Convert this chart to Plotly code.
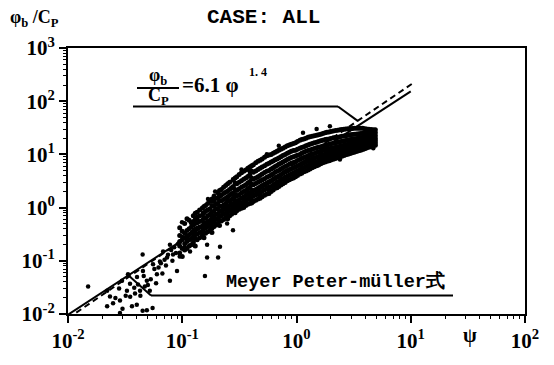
import plotly.graph_objects as go

# ---- data ----
band_psi = [0.095, 0.105, 0.115, 0.125, 0.135, 0.15, 0.16, 0.175, 0.19, 0.205,
            0.22, 0.24, 0.26, 0.28, 0.30, 0.33, 0.36, 0.39, 0.42, 0.46,
            0.50, 0.55, 0.60, 0.65, 0.70, 0.76, 0.83, 0.90, 0.98, 1.07,
            1.16, 1.26, 1.37, 1.5, 1.63, 1.78, 1.93, 2.1, 2.3, 2.5,
            2.7, 2.95, 3.2, 3.5, 3.8, 4.1, 4.5, 4.9]
band_phi = [
    [0.14, 0.19, 0.23, 0.30, 0.42],
    [0.16, 0.21, 0.27, 0.33, 0.50],
    [0.19, 0.25, 0.31, 0.40, 0.58],
    [0.22, 0.28, 0.36, 0.47, 0.55, 0.70],
    [0.25, 0.32, 0.41, 0.52, 0.66, 0.82],
    [0.30, 0.36, 0.45, 0.58, 0.72, 0.98],
    [0.33, 0.42, 0.52, 0.64, 0.85, 1.1],
    [0.38, 0.47, 0.58, 0.75, 0.95, 1.3],
    [0.44, 0.55, 0.66, 0.85, 1.05, 1.3, 1.65],
    [0.50, 0.62, 0.75, 0.95, 1.2, 1.5, 1.9],
    [0.56, 0.70, 0.86, 1.05, 1.35, 1.7, 2.2],
    [0.64, 0.78, 0.98, 1.2, 1.5, 1.95, 2.6],
    [0.70, 0.88, 1.1, 1.35, 1.7, 2.2, 3.0],
    [0.80, 0.98, 1.2, 1.5, 1.9, 2.5, 3.3],
    [0.87, 1.05, 1.3, 1.65, 2.1, 2.8, 3.8],
    [0.97, 1.2, 1.5, 1.9, 2.4, 3.2, 4.5],
    [1.1, 1.35, 1.7, 2.1, 2.7, 3.6, 5.1],
    [1.2, 1.5, 1.9, 2.4, 3.1, 4.1, 5.8],
    [1.3, 1.65, 2.1, 2.7, 3.4, 4.6, 6.4],
    [1.45, 1.8, 2.3, 3.0, 3.8, 5.2, 7.4],
    [1.6, 2.0, 2.6, 3.3, 4.3, 5.8, 8.2],
    [1.8, 2.3, 2.9, 3.7, 4.8, 6.5, 9.4],
    [2.0, 2.5, 3.2, 4.1, 5.3, 7.2, 10],
    [2.3, 2.8, 3.6, 4.6, 5.9, 7.9, 11],
    [2.5, 3.1, 3.9, 5.0, 6.5, 8.6, 12],
    [2.8, 3.5, 4.4, 5.6, 7.2, 9.5, 13],
    [3.2, 3.9, 4.9, 6.2, 8.0, 10.5, 14.5],
    [3.5, 4.3, 5.4, 6.8, 8.7, 11.5, 15.5],
    [3.8, 4.7, 5.8, 7.3, 9.3, 12, 16.5],
    [4.3, 5.2, 6.4, 8.0, 10, 13, 18.5],
    [4.7, 5.7, 7.0, 8.7, 11, 14, 19.5],
    [5.1, 6.2, 7.6, 9.4, 11.8, 15, 21],
    [5.6, 6.8, 8.2, 10, 12.5, 16, 22],
    [6.1, 7.3, 8.8, 10.8, 13.3, 17, 23],
    [6.7, 7.9, 9.5, 11.5, 14, 18, 24],
    [7.2, 8.5, 10.1, 12.2, 14.8, 19, 25.5],
    [7.6, 9.0, 10.7, 12.8, 15.5, 19.5, 26.5],
    [8.1, 9.5, 11.2, 13.4, 16.2, 20.5, 27.5],
    [8.7, 10.1, 11.8, 14, 17, 21, 28.5],
    [9.2, 10.6, 12.4, 14.6, 17.6, 22, 29.5],
    [9.8, 11.2, 13, 15.2, 18.2, 22.5, 30],
    [10.4, 11.9, 13.7, 16, 19, 23.5, 30.5],
    [11, 12.5, 14.3, 16.6, 19.6, 24, 31],
    [11.7, 13.2, 15, 17.3, 20.3, 24.5, 31],
    [12.4, 13.9, 15.7, 18, 21, 25, 31],
    [13.2, 14.7, 16.5, 18.7, 21.5, 25, 30],
    [14, 15.5, 17.2, 19.3, 22, 25.5, 29.5],
    [14.8, 16.3, 18, 20, 22.5, 25.5, 29],
]

band2_psi = [0.1, 0.11, 0.12, 0.13, 0.142, 0.155, 0.167, 0.182, 0.197, 0.212,
             0.23, 0.25, 0.27, 0.29, 0.315, 0.345, 0.375, 0.405, 0.44, 0.48,
             0.525, 0.575, 0.625, 0.675, 0.73, 0.795, 0.865, 0.94, 1.02, 1.11,
             1.21, 1.31, 1.43, 1.56, 1.7, 1.85, 2.0, 2.2, 2.4, 2.6,
             2.82, 3.07, 3.35, 3.65, 3.95, 4.3, 4.7]
band2_phi = [
    [0.12, 0.17, 0.25, 0.36],
    [0.17, 0.23, 0.29, 0.37, 0.62],
    [0.2, 0.26, 0.33, 0.43, 0.52],
    [0.19, 0.26, 0.31, 0.39, 0.5, 0.6, 0.78],
    [0.27, 0.34, 0.43, 0.55, 0.7, 0.9],
    [0.27, 0.33, 0.4, 0.51, 0.64, 0.8, 1.05],
    [0.35, 0.44, 0.55, 0.7, 0.9, 1.2],
    [0.34, 0.41, 0.52, 0.66, 0.84, 1.1, 1.45],
    [0.47, 0.6, 0.75, 0.95, 1.17, 1.5],
    [0.46, 0.57, 0.68, 0.85, 1.07, 1.35, 1.7, 2.1],
    [0.6, 0.75, 0.92, 1.12, 1.42, 1.85, 2.4],
    [0.62, 0.72, 0.84, 1.04, 1.3, 1.6, 2.05, 2.8],
    [0.75, 0.93, 1.15, 1.42, 1.8, 2.35],
    [0.8, 0.92, 1.1, 1.38, 1.75, 2.2, 2.9, 3.6],
    [0.93, 1.12, 1.4, 1.75, 2.25, 3.0, 4.2],
    [1.0, 1.12, 1.3, 1.6, 2.0, 2.55, 3.4, 4.8],
    [1.15, 1.42, 1.8, 2.25, 2.9, 3.85, 5.5],
    [1.22, 1.4, 1.7, 2.15, 2.75, 3.6, 4.9, 6.1],
    [1.38, 1.72, 2.2, 2.85, 3.6, 4.9, 7.0],
    [1.5, 1.7, 1.95, 2.45, 3.15, 4.0, 5.5, 7.8],
    [1.7, 2.15, 2.75, 3.5, 4.55, 6.1, 8.8],
    [1.85, 2.15, 2.4, 3.05, 3.9, 5.0, 6.8, 9.7],
    [2.15, 2.65, 3.4, 4.35, 5.6, 7.5, 10.5],
    [2.35, 2.7, 3.0, 3.75, 4.8, 6.2, 8.2, 11.5],
    [2.65, 3.3, 4.15, 5.3, 6.8, 9.0, 12.5],
    [2.95, 3.4, 3.7, 4.65, 5.9, 7.6, 10, 13.8],
    [3.35, 4.1, 5.15, 6.5, 8.35, 11, 15],
    [3.6, 4.1, 4.5, 5.6, 7.05, 9.0, 11.8, 16],
    [4.0, 4.95, 6.1, 7.65, 9.65, 12.5, 17.5],
    [4.4, 5.0, 5.45, 6.7, 8.35, 10.5, 13.5, 19],
    [4.9, 5.95, 7.3, 9.05, 11.4, 14.5, 20.2],
    [5.3, 5.9, 6.5, 7.9, 9.7, 12.1, 15.5, 21.5],
    [5.85, 7.05, 8.5, 10.4, 12.9, 16.5, 22.5],
    [6.3, 7.0, 7.6, 9.15, 11.1, 13.6, 17.5, 23.5],
    [6.95, 8.2, 9.8, 11.85, 14.4, 18.5, 24.8],
    [7.4, 8.2, 8.75, 10.4, 12.5, 15.1, 19.2, 26],
    [7.85, 9.25, 10.95, 13.1, 15.85, 20, 27],
    [8.4, 9.2, 9.8, 11.5, 13.7, 16.6, 20.7, 28],
    [8.95, 10.35, 12.1, 14.3, 17.3, 21.5, 29],
    [9.5, 10.2, 10.9, 12.7, 14.9, 17.9, 22.2, 29.7],
    [10.1, 11.55, 13.35, 15.6, 18.6, 23, 30.2],
    [10.7, 11.5, 12.2, 14, 16.3, 19.3, 23.7, 30.7],
    [11.35, 12.85, 14.65, 16.95, 19.95, 24.2, 31],
    [12.0, 12.8, 13.55, 15.35, 17.65, 20.65, 24.7, 31],
    [12.8, 14.3, 16.1, 18.35, 21.25, 25, 30.5],
    [13.6, 14.3, 15.1, 16.85, 19, 21.75, 25.2, 29.7],
    [14.4, 15.9, 17.6, 19.65, 22.25, 25.5, 29.2],
]

sparse_psi = [0.015, 0.022, 0.0233, 0.0248, 0.0285, 0.0328, 0.0349, 0.0402, 0.0427,
              0.0453, 0.049, 0.052, 0.0555, 0.060, 0.0638, 0.068, 0.0736, 0.078,
              0.083, 0.090, 0.0955, 0.110, 0.117, 0.124, 0.135, 0.152, 0.168,
              0.186, 0.214, 0.045, 0.022, 0.0285, 0.0363, 0.049, 0.047, 0.0386,
              0.0335, 0.0297, 0.0995, 0.165, 0.214, 0.206, 0.158, 0.078, 0.278,
              0.165, 0.0135, 0.0166, 0.019, 0.0224, 0.0248, 0.0328, 0.012,
              0.035, 0.038, 0.041, 0.043, 0.046, 0.05, 0.053, 0.057, 0.059, 0.062,
              0.065, 0.067, 0.07, 0.072, 0.075, 0.08, 0.082, 0.085, 0.088, 0.092,
              0.095, 0.1, 0.105, 0.03, 0.026, 0.04, 0.055, 0.045, 0.032, 0.028,
              0.278, 0.55, 1.14, 1.96, 0.39, 0.194, 0.7, 1.5, 0.33, 0.247, 4.7, 2.4]
sparse_phi = [0.033, 0.0275, 0.0214, 0.0159, 0.018, 0.0275, 0.037, 0.0497, 0.0275,
              0.064, 0.042, 0.0275, 0.086, 0.056, 0.0975, 0.149, 0.115, 0.20,
              0.131, 0.064, 0.226, 0.268, 0.149, 0.345, 0.62, 0.80, 1.45,
              0.71, 1.64, 0.131, 0.014, 0.0104, 0.014, 0.0118, 0.033, 0.0243,
              0.056, 0.042, 0.53, 0.20, 0.184, 0.115, 0.052, 0.042, 0.376,
              0.115, 0.0063, 0.0078, 0.006, 0.0055, 0.004, 0.0055, 0.0032,
              0.021, 0.031, 0.036, 0.022, 0.052, 0.035, 0.045, 0.07, 0.038, 0.075,
              0.09, 0.058, 0.105, 0.082, 0.13, 0.16, 0.1, 0.18, 0.14, 0.21,
              0.12, 0.28, 0.18, 0.0125, 0.02, 0.015, 0.013, 0.0115, 0.022, 0.03,
              3.4, 10.1, 25.5, 34, 4.7, 2.0, 14.5, 30, 5.2, 0.5, 13.0, 8.0]

line_psi = [0.01, 10.0]
fit_phi = [0.0097, 153.0]          # phi_b/Cp = 6.1 psi^1.4
mpm_psi = [0.01, 10.9]
mpm_phi = [0.0083, 232.0]          # Meyer Peter-Muller formula

x_ticks = [0.01, 0.1, 1, 10, 100]
x_labels = ["10<sup>-2</sup>", "10<sup>-1</sup>", "10<sup>0</sup>", "10<sup>1</sup>", "10<sup>2</sup>"]
y_ticks = [0.01, 0.1, 1, 10, 100, 1000]
y_labels = ["10<sup>-2</sup>", "10<sup>-1</sup>", "10<sup>0</sup>", "10<sup>1</sup>",
            "10<sup>2</sup>", "10<sup>3</sup>"]

# ---- figure ----
bx, by = [], []
for cols_psi, cols_phi in ((band_psi, band_phi), (band2_psi, band2_phi)):
    for p, col in zip(cols_psi, cols_phi):
        bx += [p] * len(col)
        by += col

fig = go.Figure()
fig.add_trace(go.Scatter(x=bx, y=by, mode="markers",
                         marker=dict(color="black", size=5, line=dict(width=0)),
                         showlegend=False))
fig.add_trace(go.Scatter(x=sparse_psi, y=sparse_phi, mode="markers",
                         marker=dict(color="black", size=4.5, line=dict(width=0)),
                         cliponaxis=False, showlegend=False))
fig.add_trace(go.Scatter(x=line_psi, y=fit_phi, mode="lines",
                         line=dict(color="black", width=2), showlegend=False))
fig.add_trace(go.Scatter(x=mpm_psi, y=mpm_phi, mode="lines",
                         line=dict(color="black", width=2, dash="6px,4px"), showlegend=False))

W, H = 554, 365
L, R, T, B = 68, 29, 48, 44
pw, ph = W - L - R, H - T - B


def px(x):
    return (x - L) / pw


def py(y):
    return (H - B - y) / ph


serif = "Liberation Serif"
mono = "Liberation Mono"

ann = [
    dict(text="CASE: ALL", x=px(263), y=py(17), font=dict(family=mono, size=21, weight="bold")),
    dict(text="φ<sub>b</sub> /C<sub>P</sub>", x=px(8), y=py(18), xanchor="left",
         font=dict(family=serif, size=18, weight="bold")),
    dict(text="ψ", x=px(470), y=py(343), font=dict(family=serif, size=20, weight="bold")),
    dict(text="φ<sub>b</sub>", x=px(158), y=py(77), font=dict(family=serif, size=18, weight="bold")),
    dict(text="C<sub>P</sub>", x=px(158), y=py(98), font=dict(family=serif, size=18, weight="bold")),
    dict(text="=6.1 φ", x=px(180), y=py(86), xanchor="left", font=dict(family=serif, size=21, weight="bold")),
    dict(text="1. 4", x=px(247), y=py(73), xanchor="left", font=dict(family=serif, size=12, weight="bold")),
    dict(text="Meyer Peter-müller式", x=px(224), y=py(288), xanchor="left",
         font=dict(family=mono, size=18.5, weight="bold")),
]
annotations = []
for a in ann:
    base = dict(xref="paper", yref="paper", showarrow=False, yanchor="middle",
                xanchor="center")
    base.update(a)
    base["font"] = dict(color="black", **a["font"])
    annotations.append(base)

segs = [
    (137, 89, 179, 89),
    (133, 108, 338, 108),
    (338, 108, 358, 123),
    (151, 302, 453, 302),
    (128, 281, 151, 302),
]
shapes = [dict(type="line", xref="paper", yref="paper", x0=px(a), y0=py(b), x1=px(c), y1=py(d),
               line=dict(color="black", width=2)) for a, b, c, d in segs]

axis_common = dict(type="log", showgrid=False, zeroline=False, showline=True, linecolor="black",
                   linewidth=2, mirror=True, ticks="outside", ticklen=7, tickwidth=2,
                   tickcolor="black", tickmode="array",
                   tickfont=dict(family=serif, size=21, color="black", weight="bold"),
                   minor=dict(ticks="outside", ticklen=3, tickwidth=1, tickcolor="black", dtick="D1"))

fig.update_xaxes(range=[-2, 2], tickvals=x_ticks, ticktext=x_labels, **axis_common)
fig.update_yaxes(range=[-2, 3], tickvals=y_ticks, ticktext=y_labels, **axis_common)

fig.update_layout(width=W, height=H, margin=dict(l=L, r=R, t=T, b=B, pad=0),
                  paper_bgcolor="white", plot_bgcolor="white",
                  annotations=annotations, shapes=shapes)

fig.write_html("out.html")
